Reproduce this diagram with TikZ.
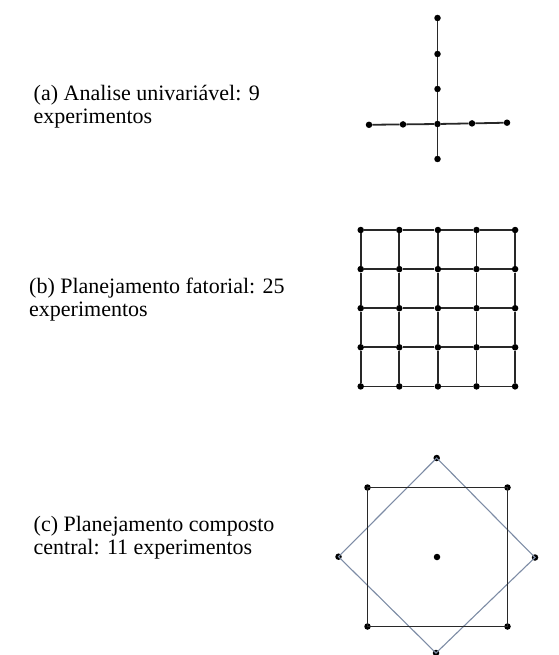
\documentclass[tikz,border=0pt]{standalone}
\usepackage{fontspec}
\setmainfont{Liberation Serif}
\usepackage{tikz}
\usetikzlibrary{positioning}
\definecolor{ink}{RGB}{40,40,40}
\definecolor{pale}{RGB}{125,140,165}

\begin{document}
\begin{tikzpicture}[x=1pt, y=-1pt,
    pt/.style={circle, fill=black, inner sep=0pt, minimum size=6.5pt},
    lbl/.style={anchor=base west, align=left, inner sep=0pt,
      font=\fontsize{22}{23}\selectfont},
    ln/.style={ink, line width=1.8pt},
    rot/.style={pale, line width=1.1pt}]
        \useasboundingbox (0,0) rectangle (558,655);
        % (a) univariate
        \node[lbl] (la) at (33.5,123.3) {(a) Analise univariável: 9\\experimentos};
        \node[pt] (a1) at (437.5,18) {};
        \node[pt] (a2) at (437.5,54) {};
        \node[pt] (a3) at (437.5,89) {};
        \node[pt] (a0) at (437.5,124) {};
        \node[pt] (a4) at (437.5,159) {};
        \node[pt] (h1) at (369,124.8) {};
        \node[pt] (h2) at (403,124.4) {};
        \node[pt] (h4) at (472,123.4) {};
        \node[pt] (h5) at (507,122.7) {};
        \foreach \a/\b in {a1/a2, a2/a3, a3/a0, a0/a4, h1/h2, h2/a0, a0/h4, h4/h5}
          \draw[ln] (\a) -- (\b);
        % (b) factorial
        \node[lbl] (lb) at (29,316) {(b) Planejamento fatorial: 25\\experimentos};
        \foreach \i in {0,...,4}
          \foreach \j in {0,...,4}
            \node[pt] (g\i\j) at (360.7+38.6*\i, 230+39.1*\j) {};
        \foreach \i in {0,...,4}
          \foreach \j [count=\k] in {0,...,3} {
            \draw[ln] (g\i\j) -- (g\i\k);
            \draw[ln] (g\j\i) -- (g\k\i);
          }
        % (c) central composite
        \node[lbl] (lc) at (33.5,554) {(c) Planejamento composto\\central: 11 experimentos};
        \node[pt] (c1) at (367.5,487.5) {};
        \node[pt] (c2) at (507.5,487.5) {};
        \node[pt] (c3) at (507.5,626.5) {};
        \node[pt] (c4) at (367.5,626.5) {};
        \node[pt] (cc) at (437,557) {};
        \node[pt] (s1) at (436.7,458) {};
        \node[pt] (s2) at (535,557.5) {};
        \node[pt] (s3) at (436,653) {};
        \node[pt] (s4) at (338.5,556.7) {};
        \draw[rot] (s1.center) -- (s2.center) -- (s3.center) -- (s4.center) -- cycle;
        \draw[ln, line width=1.5pt] (c1.center) -- (c2.center) -- (c3.center) -- (c4.center) -- cycle;
      \end{tikzpicture}
\end{document}
